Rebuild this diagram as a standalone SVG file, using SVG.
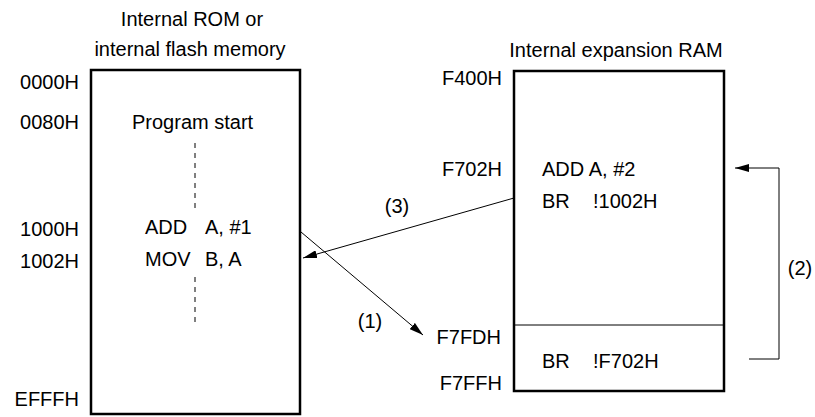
<svg xmlns="http://www.w3.org/2000/svg" width="815" height="417" viewBox="0 0 815 417">
<defs>
<marker id="ah" viewBox="0 0 14 8" refX="14" refY="4" markerWidth="14" markerHeight="8" markerUnits="userSpaceOnUse" orient="auto">
<path d="M0,0 L14,4 L0,8 Z" fill="#000"/>
</marker>
<style>
text{font-family:"Liberation Sans",Arial,sans-serif;font-size:20px;fill:#000}
.box{fill:#fff;stroke:#000;stroke-width:2.5}
.ln{fill:none;stroke:#000;stroke-width:1}
.r{text-anchor:end}
.m{text-anchor:middle}
</style>
</defs>
<rect width="815" height="417" fill="#fff"/>
<g id="rom">
<text class="m" x="192" y="26">Internal ROM or</text>
<text class="m" x="190" y="56">internal flash memory</text>
<rect class="box" x="91" y="70" width="209" height="344"/>
<text class="r" x="79" y="89">0000H</text>
<text class="r" x="79" y="129">0080H</text>
<text class="r" x="79" y="236">1000H</text>
<text class="r" x="79" y="268">1002H</text>
<text class="r" x="79" y="406">EFFFH</text>
<text x="132" y="129">Program start</text>
<line class="ln" x1="195" y1="143" x2="195" y2="212" stroke-dasharray="5,5"/>
<line class="ln" x1="195" y1="277" x2="195" y2="325" stroke-dasharray="5,5"/>
<text x="145" y="234">ADD</text><text x="205" y="234">A, #1</text>
<text x="145" y="266">MOV</text><text x="205" y="266">B, A</text>
</g>
<g id="ram">
<text class="m" x="616" y="57">Internal expansion RAM</text>
<rect class="box" x="514" y="71" width="210" height="320"/>
<line class="ln" x1="514" y1="325" x2="724" y2="325" stroke-width="1.5"/>
<text class="r" x="502" y="85">F400H</text>
<text class="r" x="502" y="176">F702H</text>
<text class="r" x="501" y="344">F7FDH</text>
<text class="r" x="502" y="390">F7FFH</text>
<text x="542" y="176">ADD A, #2</text>
<text x="542" y="208">BR</text><text x="593" y="208">!1002H</text>
<text x="542" y="368">BR</text><text x="593" y="368">!F702H</text>
</g>
<g id="connectors">
<line class="ln" x1="301" y1="232" x2="423" y2="335" marker-end="url(#ah)"/>
<line class="ln" x1="514" y1="198" x2="303" y2="258" marker-end="url(#ah)"/>
<polyline class="ln" points="749,359 779,359 779,168 735,168" marker-end="url(#ah)"/>
<text class="m" x="397" y="213">(3)</text>
<text class="m" x="370" y="328">(1)</text>
<text class="m" x="800" y="275">(2)</text>
</g>
</svg>
